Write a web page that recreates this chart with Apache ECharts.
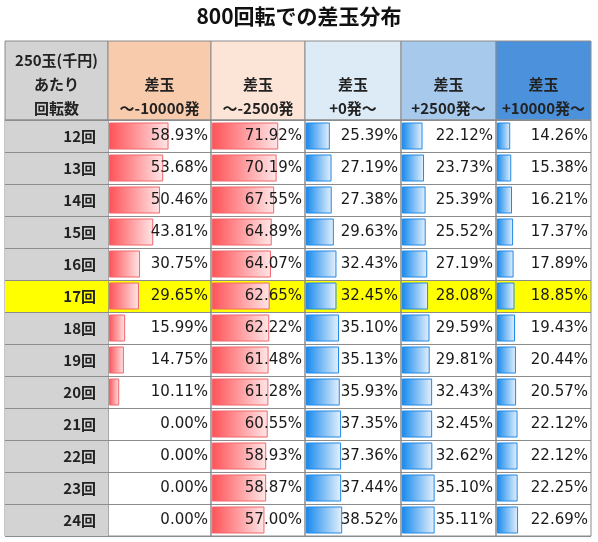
<!DOCTYPE html>
<html><head><meta charset="utf-8">
<script src="https://cdn.jsdelivr.net/npm/echarts@6/dist/echarts.min.js"></script>
<style>html,body{margin:0;padding:0;background:#fff}#chart{width:598px;height:542px}</style>
</head><body><div id="chart"></div>
<script>
// ---- data ----
const chartTitle = '800回転での差玉分布';
const rowHeader = '250玉(千円)\nあたり\n回転数';
const rowLabels = ['12回','13回','14回','15回','16回','17回','18回','19回','20回','21回','22回','23回','24回'];
const highlightRow = '17回';
const columnHeaders = ['差玉\n～-10000発','差玉\n～-2500発','差玉\n+0発～','差玉\n+2500発～','差玉\n+10000発～'];
const lossOver10000 = [58.93,53.68,50.46,43.81,30.75,29.65,15.99,14.75,10.11,0.00,0.00,0.00,0.00];
const lossOver2500  = [71.92,70.19,67.55,64.89,64.07,62.65,62.22,61.48,61.28,60.55,58.93,58.87,57.00];
const gainOver0     = [25.39,27.19,27.38,29.63,32.43,32.45,35.10,35.13,35.93,37.35,37.36,37.44,38.52];
const gainOver2500  = [22.12,23.73,25.39,25.52,27.19,28.08,29.59,29.81,32.43,32.45,32.62,35.10,35.11];
const gainOver10000 = [14.26,15.38,16.21,17.37,17.89,18.85,19.43,20.44,20.57,22.12,22.12,22.25,22.69];
const columnValues = [lossOver10000, lossOver2500, gainOver0, gainOver2500, gainOver10000];

// ---- layout & style ----
const TABLE_LEFT = 5, HEADER_TOP = 41, HEADER_H = 79, ROW_H = 32;
const COL_W = [103, 103, 94, 96, 95, 95];
const HEADER_BG = ['#d3d3d3', '#f8cbad', '#fce4d6', '#ddebf7', '#a6c9ec', '#4c91db'];
const LINE = '#8c8c8c';
const YELLOW = '#ffff00';
const BAR_STYLE = [
  {from: '#ff5257', to: '#ffe6e7', border: '#f0666b'},
  {from: '#ff5257', to: '#ffe6e7', border: '#f0666b'},
  {from: '#1689ee', to: '#e6f1fc', border: '#2288e4'},
  {from: '#1689ee', to: '#e6f1fc', border: '#2288e4'},
  {from: '#1689ee', to: '#e6f1fc', border: '#2288e4'}
];
const JP = '"Noto Sans CJK JP", "Noto Sans", sans-serif';
const NUM = '"DejaVu Sans", "Noto Sans CJK JP", sans-serif';

const colLeft = [];
COL_W.reduce((acc, w) => { colLeft.push(acc); return acc + w; }, TABLE_LEFT);
const bodyH = ROW_H * rowLabels.length;
const bodyTop = HEADER_TOP + HEADER_H;

const grid = [], xAxis = [], yAxis = [], series = [], graphic = [];
const headerTexts = [rowHeader].concat(columnHeaders);

for (let c = 0; c < COL_W.length; c++) {
  // header cell grid
  const hIdx = grid.length;
  grid.push({left: colLeft[c], top: HEADER_TOP, width: COL_W[c], height: HEADER_H,
    show: true, backgroundColor: HEADER_BG[c], borderColor: LINE, borderWidth: 1});
  xAxis.push({gridIndex: hIdx, type: 'value', show: false});
  yAxis.push({gridIndex: hIdx, type: 'category', data: [''], show: false});
  graphic.push({type: 'text', silent: true, x: colLeft[c], y: HEADER_TOP,
    style: {text: headerTexts[c], x: COL_W[c] / 2, y: HEADER_H, align: 'center', verticalAlign: 'bottom',
      font: 'bold 15px ' + JP, lineHeight: 24, fill: '#222'}});

  // body grid
  const bIdx = grid.length;
  const isRowHead = c === 0;
  grid.push({left: colLeft[c], top: bodyTop, width: COL_W[c], height: bodyH, z: 1,
    show: true, backgroundColor: 'rgba(0,0,0,0)', borderColor: LINE, borderWidth: 1});
  xAxis.push({gridIndex: bIdx, type: 'value', min: -1, max: 101, show: false});
  yAxis.push({gridIndex: bIdx, type: 'category', data: rowLabels, inverse: true,
    position: 'right', z: isRowHead ? 3 : 0,
    axisLine: {show: false}, axisTick: {show: false},
    axisLabel: {show: isRowHead, inside: true, margin: 12, interval: 0,
      fontFamily: JP, fontWeight: 'bold', fontSize: 15, color: '#222'},
    splitLine: {show: true, interval: 0, lineStyle: {color: LINE, width: 1}},
    splitArea: {show: true, interval: 0, areaStyle: {
      color: rowLabels.map(r => r === highlightRow ? YELLOW : (isRowHead ? '#d3d3d3' : '#ffffff'))}}
  });

  if (!isRowHead) {
    const vals = columnValues[c - 1];
    const st = BAR_STYLE[c - 1];
    series.push({type: 'bar', xAxisIndex: bIdx, yAxisIndex: bIdx, barWidth: 27, barGap: '-100%',
      z: 2, silent: true, animation: false,
      data: vals.map(v => ({value: v, itemStyle: {borderWidth: v > 0 ? 1 : 0}})),
      itemStyle: {borderColor: st.border, borderWidth: 1,
        color: {type: 'linear', x: 0, y: 0, x2: 1, y2: 0,
          colorStops: [{offset: 0, color: st.from}, {offset: 1, color: st.to}]}}
    });
    series.push({type: 'bar', xAxisIndex: bIdx, yAxisIndex: bIdx, barWidth: 27, barGap: '-100%',
      z: 4, silent: true, animation: false,
      data: vals.map(() => 101),
      itemStyle: {color: 'rgba(0,0,0,0)'},
      label: {show: true, position: 'insideRight', distance: 3,
        formatter: p => vals[p.dataIndex].toFixed(2) + '%',
        fontFamily: NUM, fontSize: 15, color: '#1a1a1a'}
    });
  }
}

const chart = echarts.init(document.getElementById('chart'), null, {renderer: 'canvas'});
chart.setOption({
  backgroundColor: '#ffffff',
  animation: false,
  title: {text: chartTitle, left: 'center', top: 1,
    textStyle: {fontFamily: JP, fontWeight: 'bold', fontSize: 21, color: '#111'}},
  grid, xAxis, yAxis, series, graphic
});
</script></body></html>
